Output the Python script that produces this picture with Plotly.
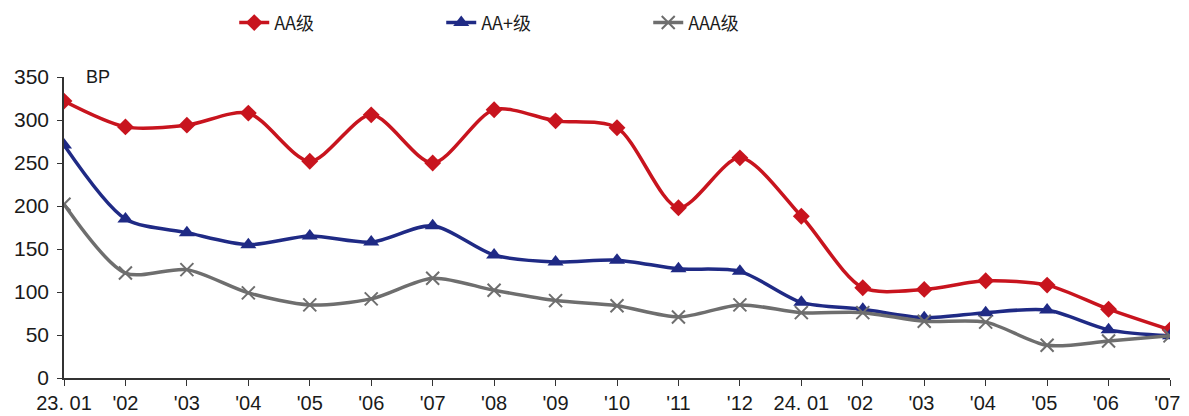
import plotly.graph_objects as go

categories = ["23. 01", "'02", "'03", "'04", "'05", "'06", "'07", "'08", "'09", "'10",
              "'11", "'12", "24. 01", "'02 ", "'03 ", "'04 ", "'05 ", "'06 ", "'07 "]
aa = [322, 292, 294, 308, 252, 306, 250, 312, 299, 291, 198, 256, 188, 105, 103, 113, 108, 80, 56]
aa_plus = [271, 185, 169, 155, 165, 158, 177, 143, 135, 137, 127, 124, 88, 80, 70, 76, 79, 56, 49]
aaa = [202, 122, 126, 99, 85, 92, 116, 102, 90, 84, 71, 85, 76, 76, 66, 65, 38, 43, 49]
y_ticks = [0, 50, 100, 150, 200, 250, 300, 350]

FONT = "Liberation Sans"
CJK = "Noto Sans CJK SC"
x_idx = list(range(len(categories)))

fig = go.Figure()
fig.add_trace(go.Scatter(x=x_idx, y=aa, name="AA级", mode="lines+markers",
                         line=dict(color="#C8141E", width=3.5, shape="spline", smoothing=0.8),
                         marker=dict(symbol="diamond", size=13, color="#C8141E")))
fig.add_trace(go.Scatter(x=x_idx, y=aa_plus, name="AA+级", mode="lines+markers",
                         line=dict(color="#1F2A85", width=3.5, shape="spline", smoothing=0.8),
                         marker=dict(symbol="triangle-up", size=14, color="#1F2A85")))
fig.add_trace(go.Scatter(x=x_idx, y=aaa, name="AAA级", mode="lines+markers",
                         line=dict(color="#6E6E6E", width=3.5, shape="spline", smoothing=0.8),
                         marker=dict(symbol="x-thin", size=13, color="#6E6E6E",
                                     line=dict(color="#6E6E6E", width=2))))

fig.update_layout(
    width=1189, height=416,
    margin=dict(l=64, r=19, t=77, b=38, autoexpand=False),
    paper_bgcolor="white", plot_bgcolor="white",
    font=dict(family=FONT, size=20, color="#1a1a1a"),
    showlegend=True,
    legend=dict(orientation="h", x=0.197, y=0.945, xref="container", yref="container",
                xanchor="left", yanchor="middle",
                entrywidth=162, font=dict(family=CJK, size=18, color="#1a1a1a"),
                bgcolor="rgba(0,0,0,0)"),
    xaxis=dict(range=[0, 18], tickmode="array", tickvals=x_idx, ticktext=categories,
               automargin=False, ticklabelstandoff=0,
               showgrid=False, zeroline=False, showline=True, linecolor="#333", linewidth=1.5,
               ticks="outside", ticklen=6, tickcolor="#333", tickwidth=1.2,
               tickfont=dict(family=FONT, size=20, color="#1a1a1a")),
    yaxis=dict(range=[0, 350], tickmode="array", tickvals=y_ticks, automargin=False,
               ticklabelstandoff=4,
               showgrid=False, zeroline=False, showline=True, linecolor="#333", linewidth=1.5,
               ticks="outside", ticklen=5, tickcolor="#333", tickwidth=1.2,
               tickfont=dict(family=FONT, size=21, color="#1a1a1a")),
    annotations=[dict(text="BP", x=0.018, y=350, xref="paper", yref="y", xanchor="left",
                      yanchor="middle", showarrow=False,
                      font=dict(family=FONT, size=18, color="#1a1a1a"))],
)

fig.write_html("out.html")
